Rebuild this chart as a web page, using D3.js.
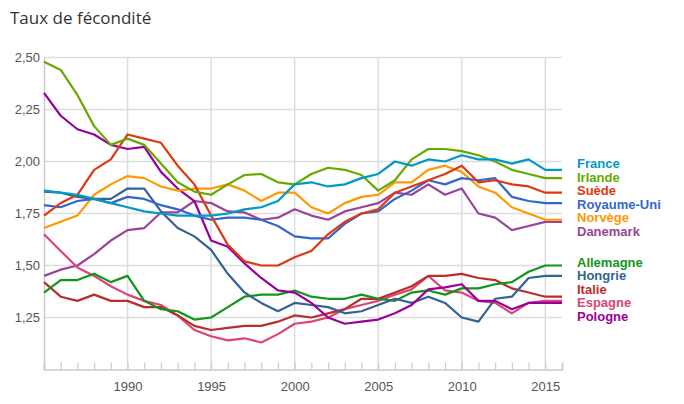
<!DOCTYPE html>
<html><head><meta charset="utf-8">
<script src="https://cdn.jsdelivr.net/npm/d3@7"></script>
<style>body{margin:0;background:#fff;font-family:"Liberation Sans",Arial,sans-serif;}</style>
</head><body><svg id="c" width="684" height="404"></svg>
<script>
const years = d3.range(1985, 2017);
const yTicks = [1.25, 1.5, 1.75, 2.0, 2.25, 2.5];
const xTicks = [1990, 1995, 2000, 2005, 2010, 2015];
const groupTop = ["France","Irlande","Suède","Royaume-Uni","Norvège","Danemark"];
const groupBottom = ["Allemagne","Hongrie","Italie","Espagne","Pologne"];
const colors = {France:"#0099c6",Irlande:"#66aa00","Suède":"#dc3912","Royaume-Uni":"#3366cc","Norvège":"#ff9900",Danemark:"#994499",Allemagne:"#109618",Hongrie:"#316395",Italie:"#b82e2e",Espagne:"#dd4477",Pologne:"#990099"};
const france = [1.86,1.85,1.84,1.82,1.80,1.78,1.76,1.75,1.74,1.74,1.74,1.75,1.77,1.78,1.81,1.89,1.90,1.88,1.89,1.92,1.94,2.00,1.98,2.01,2.00,2.03,2.01,2.01,1.99,2.01,1.96,1.96];
const irlande = [2.48,2.44,2.32,2.17,2.08,2.11,2.08,1.99,1.90,1.855,1.84,1.89,1.935,1.94,1.90,1.89,1.94,1.97,1.96,1.935,1.86,1.91,2.01,2.06,2.06,2.05,2.03,2.00,1.96,1.94,1.92,1.92];
const suede = [1.74,1.80,1.84,1.96,2.01,2.13,2.11,2.09,1.98,1.89,1.74,1.60,1.52,1.50,1.50,1.54,1.57,1.65,1.71,1.75,1.77,1.85,1.88,1.91,1.94,1.98,1.90,1.91,1.89,1.88,1.85,1.85];
const royaumeUni = [1.79,1.78,1.81,1.82,1.80,1.83,1.82,1.79,1.77,1.74,1.72,1.73,1.73,1.72,1.69,1.64,1.63,1.63,1.70,1.75,1.76,1.82,1.86,1.91,1.89,1.92,1.91,1.92,1.83,1.81,1.80,1.80];
const norvege = [1.68,1.71,1.74,1.84,1.89,1.93,1.92,1.88,1.86,1.87,1.87,1.89,1.86,1.81,1.85,1.85,1.78,1.75,1.80,1.83,1.84,1.90,1.90,1.96,1.98,1.95,1.88,1.85,1.78,1.75,1.72,1.72];
const danemark = [1.45,1.48,1.50,1.555,1.62,1.67,1.68,1.755,1.755,1.81,1.80,1.76,1.755,1.72,1.73,1.77,1.74,1.72,1.76,1.78,1.80,1.85,1.84,1.89,1.84,1.87,1.75,1.73,1.67,1.69,1.71,1.71];
const allemagne = [1.37,1.43,1.43,1.46,1.42,1.45,1.33,1.29,1.28,1.24,1.25,1.30,1.35,1.36,1.36,1.38,1.35,1.34,1.34,1.36,1.34,1.33,1.37,1.38,1.36,1.39,1.39,1.41,1.42,1.47,1.50,1.50];
const hongrie = [1.855,1.85,1.83,1.82,1.82,1.87,1.87,1.76,1.68,1.64,1.575,1.46,1.37,1.32,1.28,1.32,1.31,1.30,1.27,1.28,1.31,1.34,1.32,1.35,1.32,1.25,1.23,1.34,1.35,1.44,1.45,1.45];
const italie = [1.42,1.35,1.33,1.36,1.33,1.33,1.30,1.30,1.26,1.21,1.19,1.20,1.21,1.21,1.23,1.26,1.25,1.27,1.29,1.34,1.34,1.37,1.40,1.45,1.45,1.46,1.44,1.43,1.39,1.37,1.35,1.35];
const espagne = [1.65,1.57,1.49,1.45,1.40,1.36,1.33,1.31,1.26,1.19,1.16,1.14,1.15,1.13,1.17,1.22,1.23,1.25,1.29,1.31,1.33,1.36,1.385,1.45,1.38,1.37,1.33,1.32,1.27,1.32,1.33,1.33];
const pologne = [2.33,2.22,2.155,2.13,2.08,2.06,2.07,1.95,1.87,1.81,1.62,1.59,1.51,1.44,1.38,1.37,1.32,1.25,1.22,1.23,1.24,1.27,1.31,1.385,1.395,1.41,1.33,1.33,1.29,1.32,1.32,1.32];
const seriesValues = {France:france,Irlande:irlande,"Suède":suede,"Royaume-Uni":royaumeUni,"Norvège":norvege,Danemark:danemark,Allemagne:allemagne,Hongrie:hongrie,Italie:italie,Espagne:espagne,Pologne:pologne};
const drawOrder = ["Danemark","Espagne","Italie","Allemagne","Hongrie","Pologne","Norvège","Royaume-Uni","Suède","Irlande","France"];

const svg = d3.select("#c");
const L=44, R=562, T=57.5, B=369.5;
const x = d3.scaleLinear().domain([1985,2016]).range([L,R]);
const y = d3.scaleLinear().domain([1.0,2.5]).range([B,T]);

svg.append("text").attr("x",10).attr("y",24).attr("font-size",17).attr("fill","#333")
  .attr("font-family","'Open Sans','Liberation Sans',sans-serif").text("Taux de fécondité");

const grid = svg.append("g").attr("stroke","#ddd").attr("stroke-width",1.5);
yTicks.forEach(v=>grid.append("line").attr("x1",L).attr("x2",R).attr("y1",y(v)).attr("y2",y(v)));
xTicks.forEach(v=>grid.append("line").attr("x1",x(v)).attr("x2",x(v)).attr("y1",T).attr("y2",B));

// axes
const xAxis = d3.axisBottom(x).tickValues(xTicks).tickSize(0).tickPadding(12).tickFormat(d3.format("d"));
const gx = svg.append("g").attr("transform",`translate(0,${B})`).call(xAxis);
gx.select(".domain").remove();
gx.selectAll("text").attr("font-size",13).attr("fill","#555").attr("font-family","'Liberation Sans',Arial,sans-serif");
const minor = d3.axisTop(x).tickValues(years).tickSize(7).tickFormat("");
const gm = svg.append("g").attr("transform",`translate(0,${B})`).call(minor);
gm.select(".domain").attr("stroke","#ccc").attr("stroke-width",1.5);
gm.selectAll("line").attr("stroke","#ccc").attr("stroke-width",1.2);
const yAxis = d3.axisLeft(y).tickValues(yTicks).tickSize(0).tickPadding(4).tickFormat(d=>d3.format(".2f")(d).replace(".",","));
const gy = svg.append("g").attr("transform",`translate(${L},0)`).call(yAxis);
gy.select(".domain").attr("stroke","#ccc").attr("stroke-width",1.5);
gy.selectAll("text").attr("font-size",13).attr("fill","#555").attr("font-family","'Liberation Sans',Arial,sans-serif");

const line = d3.line().x((d,i)=>x(years[i])).y(d=>y(d));
const lines = svg.append("g").attr("fill","none").attr("stroke-width",2.2).attr("stroke-linejoin","round");
drawOrder.forEach(n=>lines.append("path").attr("d",line(seriesValues[n])).attr("stroke",colors[n]));

const leg = svg.append("g").attr("font-size",13).attr("font-weight","bold").attr("font-family","'Liberation Sans',Arial,sans-serif");
groupTop.forEach((n,i)=>leg.append("text").attr("x",577).attr("y",168+i*13.5).attr("fill",colors[n]).text(n));
groupBottom.forEach((n,i)=>leg.append("text").attr("x",577).attr("y",266.5+i*13.5).attr("fill",colors[n]).text(n));
</script></body></html>
